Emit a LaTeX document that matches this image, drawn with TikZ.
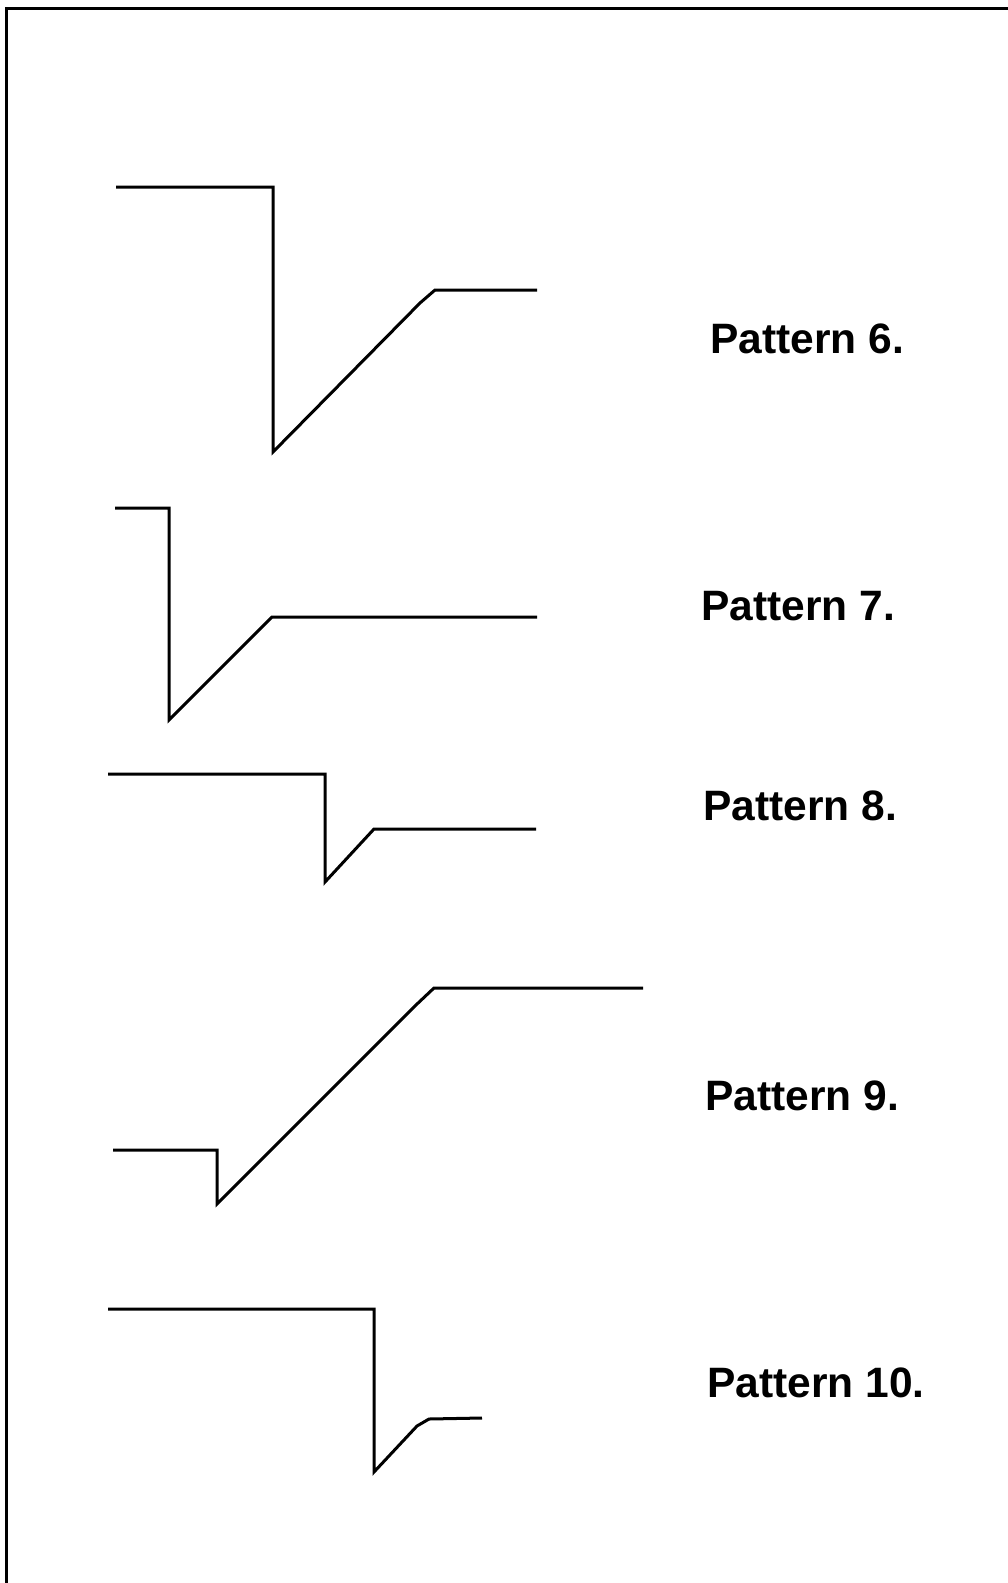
\documentclass[tikz,border=0pt]{standalone}
\usepackage{fontspec}
\setmainfont{Liberation Sans}
\begin{document}
\begin{tikzpicture}[x=1pt,y=-1pt,
  trace/.style={line width=3pt,line join=miter,line cap=butt},
  frame/.style={line width=3pt},
  patlabel/.style={anchor=base west,inner sep=0pt,font=\fontsize{42.5}{50}\selectfont\bfseries}]
  % page extent
  \useasboundingbox (0,0) rectangle (1008,1583);
  \fill[white] (0,0) rectangle (1008,1583);
  % open frame: top and left edges
  \draw[frame] (6,1583) -- (6,8) -- (1008,8);

  % Pattern 6
  \draw[trace] (116,187) -- (273,187) -- (273,452) -- (420,303) -- (435,290) -- (537,290);
  \node[patlabel] (p6) at (710,353) {Pattern 6.};

  % Pattern 7
  \draw[trace] (115,508) -- (169,508) -- (169,720) -- (272,617) -- (537,617);
  \node[patlabel] (p7) at (701,620) {Pattern 7.};

  % Pattern 8
  \draw[trace] (108,774) -- (325,774) -- (325,882) -- (374,829) -- (536,829);
  \node[patlabel] (p8) at (703,820) {Pattern 8.};

  % Pattern 9
  \draw[trace] (113,1150) -- (217,1150) -- (217,1204) -- (416,1005) -- (434,988) -- (643,988);
  \node[patlabel] (p9) at (705,1110) {Pattern 9.};

  % Pattern 10
  \draw[trace] (108,1309) -- (374,1309) -- (374,1472) -- (417,1426) -- (429,1419) -- (482,1418);
  \node[patlabel] (p10) at (707,1397) {Pattern 10.};
\end{tikzpicture}
\end{document}
